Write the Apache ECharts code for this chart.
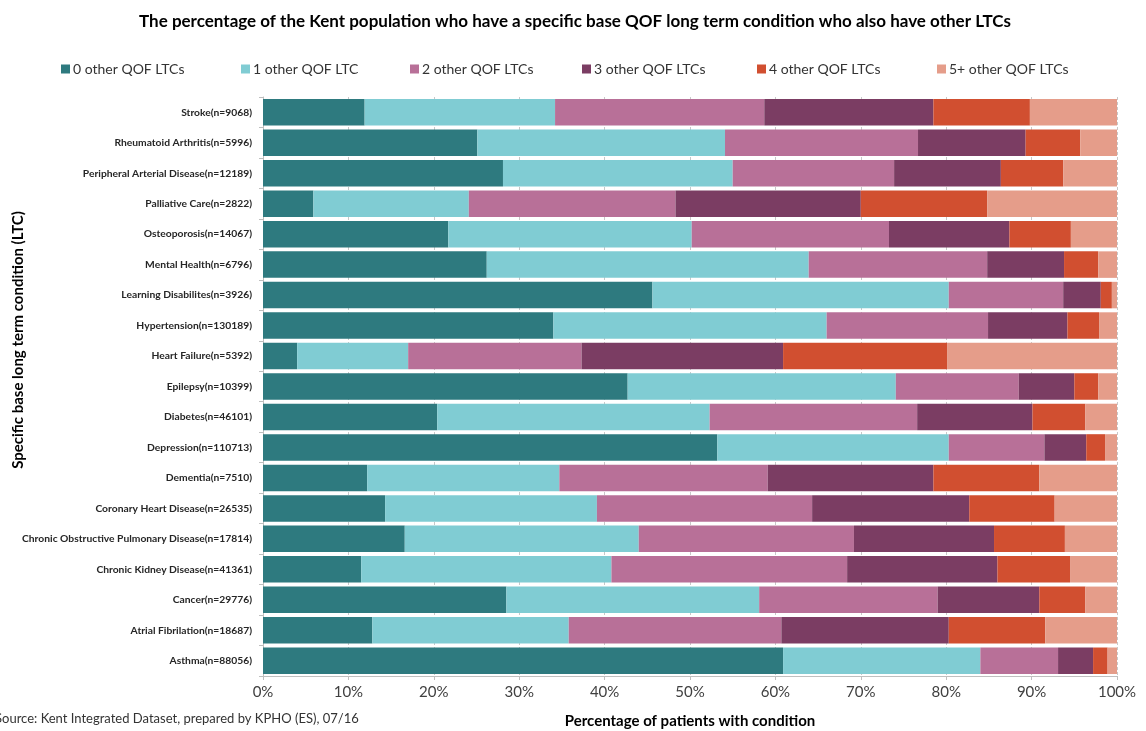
<!DOCTYPE html>
<html>
<head>
<meta charset="utf-8">
<script src="https://cdn.jsdelivr.net/npm/echarts@6/dist/echarts.min.js"></script>
<style>
html,body{margin:0;padding:0;background:#fff;}
#chart{width:1146px;height:731px;}
</style>
</head>
<body>
<div id="chart"></div>
<script>
// Conditions, listed bottom to top
const categories = [
  'Asthma(n=88056)',
  'Atrial Fibrilation(n=18687)',
  'Cancer(n=29776)',
  'Chronic Kidney Disease(n=41361)',
  'Chronic Obstructive Pulmonary Disease(n=17814)',
  'Coronary Heart Disease(n=26535)',
  'Dementia(n=7510)',
  'Depression(n=110713)',
  'Diabetes(n=46101)',
  'Epilepsy(n=10399)',
  'Heart Failure(n=5392)',
  'Hypertension(n=130189)',
  'Learning Disabilites(n=3926)',
  'Mental Health(n=6796)',
  'Osteoporosis(n=14067)',
  'Palliative Care(n=2822)',
  'Peripheral Arterial Disease(n=12189)',
  'Rheumatoid Arthritis(n=5996)',
  'Stroke(n=9068)'
];

const seriesNames = [
  '0 other QOF LTCs',
  '1 other QOF LTC',
  '2 other QOF LTCs',
  '3 other QOF LTCs',
  '4 other QOF LTCs',
  '5+ other QOF LTCs'
];

// Percentage of patients in each group (same order as categories)
const zeroOther  = [60.9,12.8,28.5,11.5,16.6,14.3,12.2,53.2,20.4,42.7, 4.0,34.0,45.6,26.2,21.7, 5.9,28.1,25.1,11.9];
const oneOther   = [23.1,23.0,29.6,29.3,27.4,24.8,22.5,27.1,31.9,31.4,13.0,32.0,34.7,37.7,28.5,18.2,26.9,29.0,22.3];
const twoOther   = [ 9.1,24.9,20.9,27.6,25.2,25.2,24.4,11.2,24.3,14.4,20.3,18.9,13.4,20.9,23.1,24.2,18.9,22.6,24.5];
const threeOther = [ 4.1,19.6,11.9,17.6,16.4,18.4,19.4, 4.9,13.5, 6.5,23.6, 9.3, 4.4, 9.0,14.1,21.7,12.5,12.6,19.8];
const fourOther  = [ 1.7,11.3, 5.4, 8.5, 8.3,10.0,12.4, 2.2, 6.2, 2.8,19.2, 3.7, 1.3, 4.0, 7.2,14.8, 7.3, 6.4,11.3];
const fivePlus   = [ 1.1, 8.4, 3.7, 5.5, 6.1, 7.3, 9.1, 1.4, 3.7, 2.2,19.9, 2.1, 0.6, 2.2, 5.4,15.2, 6.3, 4.3,10.2];

const colors = ['#2E7A7F', '#80CCD3', '#B87098', '#7B3D63', '#D14F30', '#E59D8A'];
const FONT = 'Lato, "Open Sans", sans-serif';

const seriesData = [zeroOther, oneOther, twoOther, threeOther, fourOther, fivePlus];

// One legend per entry so the entries sit at even spacing across the top
const legendLefts = [56, 236, 405, 577, 752, 932];
const legends = seriesNames.map((name, i) => ({
  data: [name],
  left: legendLefts[i],
  top: 57,
  itemWidth: 9,
  itemHeight: 9,
  itemGap: 0,
  icon: 'rect',
  textStyle: {fontFamily: FONT, fontSize: 14, color: '#333', padding: [0, 0, 0, -2]}
}));

const chart = echarts.init(document.getElementById('chart'), null, {renderer: 'canvas'});

chart.setOption({
  animation: false,
  textStyle: {fontFamily: FONT},
  title: {
    text: 'The percentage of the Kent population who have a specific base QOF long term condition who also have other LTCs',
    left: 570,
    textAlign: 'center',
    top: 8,
    textStyle: {fontFamily: FONT, fontSize: 17, fontWeight: 'bold', color: '#000'}
  },
  color: colors,
  legend: legends,
  grid: {left: 263, right: 29, top: 97, bottom: 55, containLabel: false, outerBoundsMode: 'none'},
  xAxis: {
    type: 'value',
    min: 0,
    max: 100,
    interval: 10,
    name: 'Percentage of patients with condition',
    nameLocation: 'middle',
    nameGap: 38,
    nameTextStyle: {fontFamily: FONT, fontSize: 15, fontWeight: 'bold', color: '#000'},
    axisLine: {show: true, lineStyle: {color: '#BFBFBF'}},
    axisTick: {show: true, length: 4, lineStyle: {color: '#BFBFBF'}},
    axisLabel: {formatter: '{value}%', fontFamily: FONT, fontSize: 15, color: '#404040', margin: 9},
    splitLine: {show: true, lineStyle: {color: '#C8C8C8', type: [3, 2]}}
  },
  yAxis: {
    type: 'category',
    data: categories,
    axisLine: {show: true, lineStyle: {color: '#BFBFBF'}},
    axisTick: {show: true, length: 4, lineStyle: {color: '#BFBFBF'}},
    axisLabel: {fontFamily: FONT, fontSize: 10.3, fontWeight: 'bold', color: '#262626', margin: 11}
  },
  series: seriesNames.map((name, i) => ({
    name: name,
    type: 'bar',
    stack: 'total',
    barCategoryGap: '13%',
    data: seriesData[i],
    itemStyle: {color: colors[i]}
  })),
  graphic: [{
    type: 'text',
    x: 18,
    y: 340,
    rotation: Math.PI / 2,
    style: {
      text: 'Specific base long term condition (LTC)',
      fontFamily: FONT,
      fontSize: 15,
      fontWeight: 'bold',
      fill: '#000',
      align: 'center',
      verticalAlign: 'middle'
    }
  }, {
    type: 'text',
    left: -5,
    top: 712,
    style: {
      text: 'Source: Kent Integrated Dataset, prepared by KPHO (ES), 07/16',
      fontFamily: FONT,
      fontSize: 13,
      fill: '#333'
    }
  }]
});
</script>
</body>
</html>
